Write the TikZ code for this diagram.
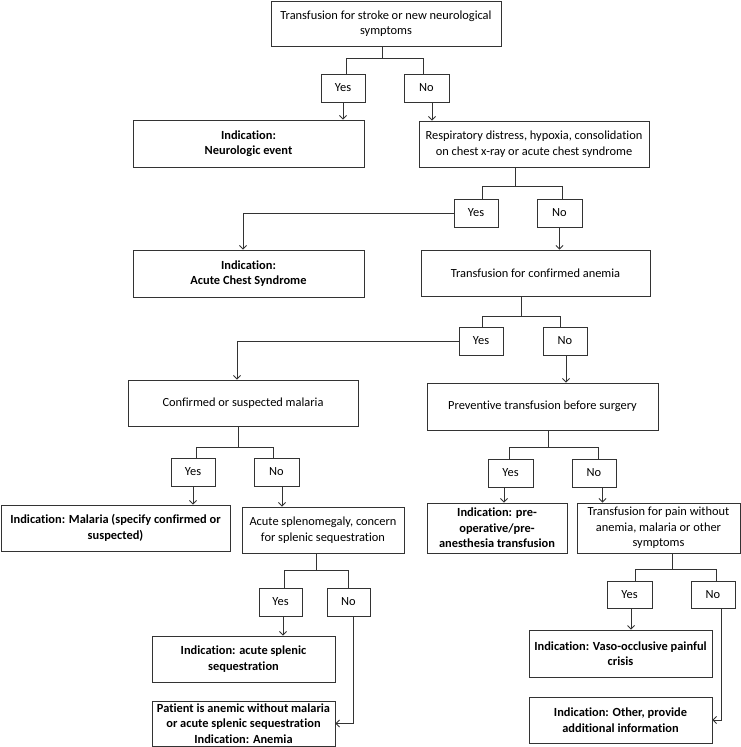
\documentclass[tikz,border=0pt]{standalone}
\usepackage{fontspec}
\setmainfont{Carlito}[Ligatures=NoCommon]
\usetikzlibrary{arrows.meta}
\definecolor{ln}{HTML}{333333}
\tikzset{
  box/.style={draw=ln, line width=0.9pt, rectangle, inner sep=0pt, align=center,
    font=\fontsize{12.4}{15.5}\selectfont},
  bbox/.style={box, font=\fontsize{12.4}{15.5}\selectfont\bfseries},
  yn/.style={box},
  conn/.style={draw=ln, line width=0.8pt},
  arr/.style={conn, -{Straight Barb[length=3.5pt,width=7pt]}}
}
\begin{document}
\begin{tikzpicture}[x=1pt,y=-1pt]
\useasboundingbox (0,0) rectangle (741,747);
% nodes
\node[box, minimum width=230, minimum height=45] (top) at (386,23.5) {Transfusion for stroke or new neurological\\symptoms};
\node[yn, minimum width=44, minimum height=28] (yes1) at (343,88) {Yes};
\node[yn, minimum width=45, minimum height=28] (no1) at (426.5,88) {No};
\node[bbox, minimum width=231, minimum height=47] (neuro) at (248.5,143.5) {Indication:\\Neurologic event};
\node[box, minimum width=230, minimum height=46] (resp) at (534,144) {Respiratory distress, hypoxia, consolidation\\on chest x-ray or acute chest syndrome};
\node[yn, minimum width=44, minimum height=28] (yes2) at (476,213) {Yes};
\node[yn, minimum width=45, minimum height=28] (no2) at (559.5,213) {No};
\node[bbox, minimum width=231, minimum height=47] (acs) at (248.5,273.5) {Indication:\\Acute Chest Syndrome};
\node[box, minimum width=229, minimum height=46] (anem) at (535.5,273) {Transfusion for confirmed anemia};
\node[yn, minimum width=44, minimum height=28] (yes3) at (481,341) {Yes};
\node[yn, minimum width=44, minimum height=28] (no3) at (565,341) {No};
\node[box, minimum width=230, minimum height=46] (mal) at (243,403) {Confirmed or suspected malaria};
\node[box, minimum width=231, minimum height=47] (prev) at (542.5,406.5) {Preventive transfusion before surgery};
\node[yn, minimum width=44, minimum height=28] (yes4) at (193,472) {Yes};
\node[yn, minimum width=45, minimum height=28] (no4) at (276.5,472) {No};
\node[yn, minimum width=45, minimum height=28] (yes5) at (510.5,473) {Yes};
\node[yn, minimum width=44, minimum height=28] (no5) at (594,473) {No};
\node[bbox, minimum width=229, minimum height=46] (malind) at (115.5,528) {Indication: Malaria (specify confirmed or\\suspected)};
\node[box, minimum width=162, minimum height=46] (splen) at (323,530) {Acute splenomegaly, concern\\for splenic sequestration};
\node[bbox, minimum width=140, minimum height=50] (preop) at (497,528) {Indication: pre-\\operative/pre-\\anesthesia transfusion};
\node[box, minimum width=163, minimum height=50] (pain) at (658.5,528) {Transfusion for pain without\\anemia, malaria or other\\symptoms};
\node[yn, minimum width=43, minimum height=28] (yes6) at (280.5,602) {Yes};
\node[yn, minimum width=43, minimum height=28] (no6) at (348.5,602) {No};
\node[yn, minimum width=45, minimum height=27] (yes7) at (629.5,594.5) {Yes};
\node[yn, minimum width=44, minimum height=27] (no7) at (713,594.5) {No};
\node[bbox, minimum width=183, minimum height=46] (asplen) at (243.5,659) {Indication: acute splenic\\sequestration};
\node[bbox, minimum width=183, minimum height=45] (anind) at (243.5,723.5) {Patient is anemic without malaria\\or acute splenic sequestration\\Indication: Anemia};
\node[bbox, minimum width=183, minimum height=47] (vaso) at (620.5,653.5) {Indication: Vaso-occlusive painful\\crisis};
\node[bbox, minimum width=183, minimum height=46] (other) at (620.5,720) {Indication: Other, provide\\additional information};
% branching stems
\draw[conn] ([xshift=-4]top.south) -- ++(0,12) -| ([xshift=3]yes1.north);
\draw[conn] ([xshift=-4]top.south) ++(0,12) -| ([xshift=-3.5]no1.north);
\draw[conn] ([xshift=-19]resp.south) -- ++(0,19) -| ([xshift=6]yes2.north);
\draw[conn] ([xshift=-19]resp.south) ++(0,19) -| ([xshift=2.5]no2.north);
\draw[conn] ([xshift=-14.5]anem.south) -- ++(0,20) -| ([xshift=1]yes3.north);
\draw[conn] ([xshift=-14.5]anem.south) ++(0,20) -| ([xshift=-5]no3.north);
\draw[conn] ([xshift=-5]mal.south) -- ++(0,21) -| ([xshift=3]yes4.north);
\draw[conn] ([xshift=-5]mal.south) ++(0,21) -| ([xshift=-3.5]no4.north);
\draw[conn] ([xshift=5.5]prev.south) -- ++(0,17) -| ([xshift=-1.5]yes5.north);
\draw[conn] ([xshift=5.5]prev.south) ++(0,17) -| ([xshift=4.5]no5.north);
\draw[conn] ([xshift=-7]splen.south) -- ++(0,17) -| ([xshift=3.5]yes6.north);
\draw[conn] ([xshift=-7]splen.south) ++(0,17) -| (no6.north);
\draw[conn] ([xshift=13.5]pain.south) -- ++(0,16) -| ([xshift=5.5]yes7.north);
\draw[conn] ([xshift=13.5]pain.south) ++(0,16) -| ([xshift=3]no7.north);
% arrows
\draw[arr] (yes1.south) -- (yes1.south |- neuro.north);
\draw[arr] ([xshift=5.5]no1.south) -- ([xshift=5.5]no1.south |- resp.north);
\draw[arr] (yes2.west) -| ([xshift=-5.5]acs.north);
\draw[arr] (no2.south) -- (no2.south |- anem.north);
\draw[arr] (yes3.west) -| ([xshift=-6]mal.north);
\draw[arr] ([xshift=1]no3.south) -- ([xshift=1]no3.south |- prev.north);
\draw[arr] (yes4.south) -- (yes4.south |- malind.north);
\draw[arr] ([xshift=5.5]no4.south) -- ([xshift=5.5]no4.south |- splen.north);
\draw[arr] ([xshift=-6.5]yes5.south) -- ([xshift=-6.5]yes5.south |- preop.north);
\draw[arr] ([xshift=8.5]no5.south) -- ([xshift=8.5]no5.south |- pain.north);
\draw[arr] ([xshift=2.5]yes6.south) -- ([xshift=2.5]yes6.south |- asplen.north);
\draw[arr] ([xshift=4.5]no6.south) |- (anind.east);
\draw[arr] ([xshift=1.5]yes7.south) -- ([xshift=1.5]yes7.south |- vaso.north);
\draw[arr] ([xshift=8]no7.south) |- (other.east);
\end{tikzpicture}
\end{document}
